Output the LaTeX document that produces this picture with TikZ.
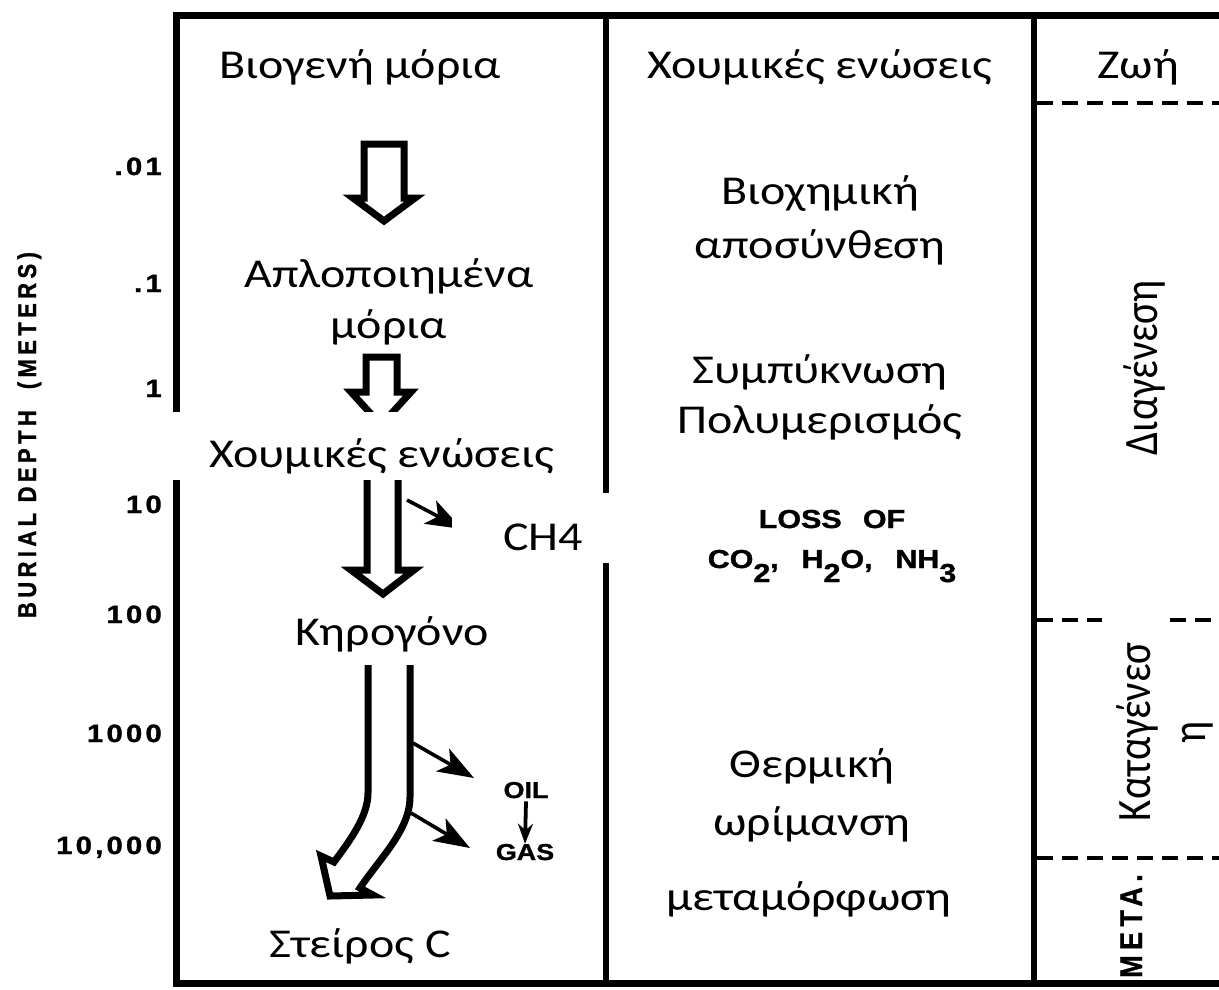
\documentclass[tikz,border=0pt]{standalone}
\usepackage{fontspec}
\setmainfont{Carlito}
\newfontfamily\labelfont[BoldFeatures={FakeBold=1.2}]{Liberation Sans}
\newfontfamily\tickfont[LetterSpace=11, BoldFeatures={FakeBold=1.2}]{Liberation Sans}
\newfontfamily\spacedfont[LetterSpace=20, BoldFeatures={FakeBold=1.2}]{Liberation Sans}
\usetikzlibrary{arrows.meta}

\newcommand{\lowdigit}[1]{\raisebox{-14pt}{#1}}

\tikzset{
  frame/.style={line width=7pt, line join=miter},
  divider/.style={line width=6pt},
  zone/.style={line width=4pt, dash pattern=on 16pt off 9pt},
  hollow/.style={line width=7pt, line join=miter},
  side arrow/.style={line width=3.6pt, -{Stealth[length=36pt, width=26pt, inset=9pt]}},
  wide/.style={xscale=1.17},
  gr/.style={wide, font=\fontsize{41}{50}\selectfont, align=center, inner sep=0pt},
  lbl/.style={wide, inner sep=0pt},
  tick/.style={lbl, anchor=base east, font=\tickfont\bfseries\fontsize{25}{28}\selectfont},
}

\begin{document}
\begin{tikzpicture}[x=1pt, y=-1pt]
\useasboundingbox (0,0) rectangle (1219,989);
\fill[white] (0,0) rectangle (1219,989);

% outer frame (open on the right) and column dividers
\draw[frame] (1219,15) -- (176,15) -- (176,983) -- (1219,983);
\draw[divider] (606,15) -- (606,983);
\draw[divider] (1034,15) -- (1034,983);

% stage boundaries in the right column
\draw[zone] (1037,103) -- (1219,103);
\draw[zone] (1037,620) -- (1102,620);
\draw[zone] (1170,620) -- (1219,620);
\draw[zone] (1037,858) -- (1219,858);

% hollow process arrows in the left column
\draw[hollow] (364,144) -- (404,144) -- (404,198) -- (415,198) -- (384,221)
  -- (353,198) -- (364,198) -- cycle;
\draw[hollow] (366,357) -- (397,357) -- (397,392) -- (411,392) -- (381,425)
  -- (351,392) -- (366,392) -- cycle;
\draw[hollow] (367,470) -- (398,470) -- (398,570) -- (414,570) -- (383,594)
  -- (351,570) -- (367,570) -- cycle;
% bent arrow from kerogen down to inert carbon
\draw[hollow] (368,665) -- (368,793) .. controls (368,815) and (352,838) .. (334,862)
  -- (321,856) -- (330,896) -- (373,895) -- (360,888)
  .. controls (380,858) and (410,830) .. (410,797) -- (410,665);

% side products
\coordinate (ch4from) at (407,500);
\coordinate (ch4to) at (462,529);
\draw[side arrow] (ch4from) -- (ch4to);
\coordinate (oilfrom) at (413,743);
\coordinate (oilto) at (474,778);
\draw[side arrow] (oilfrom) -- (oilto);
\coordinate (gasfrom) at (411,813);
\coordinate (gasto) at (470,848);
\draw[side arrow] (gasfrom) -- (gasto);

% cleared bands behind two labels
\fill[white] (170,412) rectangle (590,480);
\fill[white] (452,493) rectangle (615,563);

% depth axis
\node[lbl, rotate=90, anchor=base, font=\spacedfont\bfseries\fontsize{22}{26}\selectfont]
  (axis) at (36,435) {BURIAL DEPTH \ (METERS)};
\node[tick] (d1) at (162,175) {.01};
\node[tick] (d2) at (162,292) {.1};
\node[tick] (d3) at (162,397) {1};
\node[tick] (d4) at (162,513) {10};
\node[tick] (d5) at (162,623) {100};
\node[tick] (d6) at (162,742) {1000};
\node[tick] (d7) at (162,854) {10,000};

% column headers
\node[gr, anchor=base] (h1) at (360,78) {Βιογενή μόρια};
\node[gr, anchor=base] (h2) at (820,78) {Χουμικές ενώσεις};
\node[gr, anchor=base] (h3) at (1138,78) {Ζωή};

% left column: materials
\node[gr, anchor=base, font=\fontsize{41}{51}\selectfont] (simple) at (389,338) {Απλοποιημένα\\μόρια};
\node[gr, anchor=base] (humic) at (382,467) {Χουμικές ενώσεις};
\node[gr, anchor=base] (ch4) at (543,550) {CH4};
\node[gr, anchor=base] (kerogen) at (392,645) {Κηρογόνο};
\node[gr, anchor=base] (inert) at (360,957) {Στείρος C};
\node[lbl, anchor=base, font=\labelfont\bfseries\fontsize{23}{26}\selectfont] (oil) at (526,798) {OIL};
\node[lbl, anchor=base, font=\labelfont\bfseries\fontsize{23}{26}\selectfont] (gas) at (525,860) {GAS};
\draw[line width=3.8pt, -{Stealth[length=20pt, width=15pt]}]
  (oil.south) ++(0,3) coordinate (oilgas) (oilgas) -- (gas.north);

% middle column: processes
\node[gr, anchor=base, font=\fontsize{41}{54}\selectfont] (bio) at (820,258) {Βιοχημική\\αποσύνθεση};
\node[gr, anchor=base] (poly) at (820,433) {Συμπύκνωση\\Πολυμερισμός};
\node[lbl, anchor=base, align=center, font=\labelfont\bfseries\fontsize{26}{40}\selectfont]
  (loss) at (832,568)
  {LOSS\hspace{0.7em}OF\\CO\lowdigit{2},\hspace{0.75em}H\lowdigit{2}O,\hspace{0.75em}NH\lowdigit{3}};
\node[gr, anchor=base, font=\fontsize{41}{58}\selectfont] (thermal) at (812,835) {Θερμική\\ωρίμανση};
\node[gr, anchor=base] (meta) at (809,910) {μεταμόρφωση};

% right column: stages
\node[gr, rotate=90, anchor=base] (diag) at (1157,368) {Διαγένεση};
\node[gr, rotate=90, anchor=base, font=\fontsize{41}{47}\selectfont] (catag) at (1205,732) {Καταγένεσ\\η};
\node[lbl, rotate=90, anchor=base, font=\spacedfont\bfseries\fontsize{27}{30}\selectfont]
  (metastage) at (1142,926) {META.};
\end{tikzpicture}
\end{document}
